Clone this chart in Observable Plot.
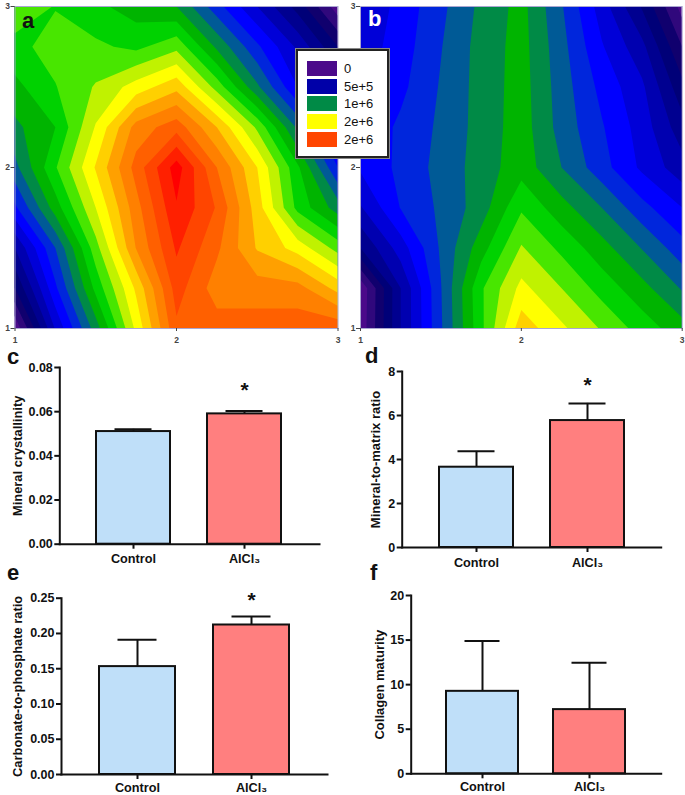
<!DOCTYPE html>
<html>
<head>
<meta charset="utf-8">
<script src="https://cdn.jsdelivr.net/npm/d3@7"></script>
<script src="https://cdn.jsdelivr.net/npm/@observablehq/plot@0.6"></script>
<style>
html,body{margin:0;padding:0;background:#fff}
#page{position:relative;width:685px;height:795px;overflow:hidden;font-family:"Liberation Sans",Arial,sans-serif}
.letter{position:absolute;font-weight:bold;font-size:22px;line-height:22px;color:#111}
#legend{position:absolute;left:296px;top:49px;width:89px;height:105px;background:#fff;border:2px solid #222;outline:1px solid #888;box-shadow:0 0 0 1px #777}
.sw{position:absolute;left:9px;width:30px;height:15px}
.lb{position:absolute;left:46px;font-size:13px;line-height:15px;color:#111}
</style>
</head>
<body>
<div id="page"></div>
<script>
// Contour grids, in units of 1e5, rows from y=3 down to y=1, columns x=1..3
const mapUnit = 1e5;
const mapA = [
  [13.6,12.95,12.25,11.5,11.0,8.4,6.0,3.6,0.4],
  [12.7,13.4,13.2,12.75,13.7,10.8,8.2,5.8,3],
  [11.7,12.95,14.1,15.45,16.7,13.6,10.2,7,4.5],
  [10.75,12,15.1,18.4,19.6,17,13.8,9.8,6],
  [9.7,12.9,16.1,19.4,22.5,19,16,12.2,8],
  [7.8,11.5,15,18.6,21.9,19.9,16.5,12.7,10.5],
  [5,9,13.6,18.05,21.15,19.2,16.9,15.6,13.6],
  [3,7.8,12.3,16.2,20.45,18.5,18.5,18.4,16.65],
  [0.2,6.1,10.5,15.25,19.8,19.5,19.5,19.6,19.7]
];
const mapB = [
  [6.05,7.35,8.75,10.25,11.35,9.1,6.5,3.9,0.6],
  [6.4,7.5,8.95,10.4,11.4,9.35,7.1,5.3,2],
  [6.85,7.75,9.1,10.4,11.45,9.5,7.7,6.2,3.3],
  [7.2,8.2,9.2,10.4,11.5,9.6,8.1,6.55,4.4],
  [7.15,8.25,9.35,10.45,11.6,10,8.4,6.8,5.4],
  [5.9,8.05,9.2,10.5,12.85,11.4,10,8.35,7],
  [4,6.5,9.15,11.55,14.1,12.75,11.4,9.95,8.4],
  [0.2,5,8.95,12.85,15.3,14,12.6,11.35,9.9],
  [0.3,5,8.87,12.75,16.6,15.2,13.9,12.55,11.4]
];
const levels = [0,1,2,3,4,5,6,7,8,9,10,11,12,13,14,15,16,17,18,19,20,21,22];
const bandColors = ["#4b0a8a","#30087c","#10006e","#000078","#000090","#0000b0","#0000d8","#0000ff","#0026dc","#005a96",
  "#008a46","#00b400","#00d200","#48e600","#c0f200","#ffff00","#ffd000","#ffa000","#ff8000","#ff6000","#ff4500","#ff2000","#ff0000"];
const legendLabels = ["0","5e+5","1e+6","2e+6","2e+6"];
const legendColors = ["#4b0a8a","#0000a8","#008a46","#ffff00","#ff4500"];

const categories = ["Control","AlCl₃"];
const barColors = ["#bfdff9","#ff7f7f"];
const crystallinity = [0.051,0.059], crystallinityTop = [0.052,0.0603];
const mineralMatrix = [3.65,5.77], mineralMatrixTop = [4.37,6.55];
const carbonate = [0.153,0.212], carbonateTop = [0.191,0.224];
const collagen = [9.25,7.2], collagenTop = [14.9,12.45];
const ticksC = [0,0.02,0.04,0.06,0.08], ticksD = [0,2,4,6,8], ticksE = [0,0.05,0.1,0.15,0.2,0.25], ticksF = [0,5,10,15,20];

const page = document.getElementById("page");
const font = '"Liberation Sans",Arial,sans-serif';

function place(svg,left,top){
  svg.style.position="absolute";svg.style.left=left+"px";svg.style.top=top+"px";svg.style.background="transparent";svg.style.overflow="visible";
  page.appendChild(svg);
}
function mapPanel(grid,left,width,mL,mR){
  const values = grid.flat().map(v=>v*mapUnit);
  const pad = 0.125;
  place(Plot.plot({
    width,height:345,marginLeft:mL,marginRight:mR,marginTop:6,marginBottom:17,
    x:{domain:[1,3]},y:{domain:[1,3]},
    color:{type:"ordinal",domain:levels.map(l=>l*mapUnit),range:bandColors},
    style:{fontFamily:font,background:"transparent"},
    marks:[
      Plot.contour(values,{width:9,height:9,x1:1-pad,x2:3+pad,y1:3+pad,y2:1-pad,
        fill:Plot.identity,thresholds:levels.map(l=>l*mapUnit),clip:true}),
      Plot.frame({stroke:"#aaa6d2",strokeWidth:1}),
      Plot.axisX({ticks:[1,2,3],tickFormat:"d",tickSize:3,tickPadding:5,fontSize:8.5,fontWeight:"bold",label:null,color:"#444"}),
      Plot.axisY({ticks:[1,2,3],tickFormat:"d",tickSize:4,tickPadding:1,fontSize:8.5,fontWeight:"bold",label:null,color:"#444"})
    ]
  }),left,0);
}
function barPanel(o){
  const rows = categories.map((c,i)=>({c,v:o.values[i],top:o.tops[i],fill:barColors[i]}));
  const starred = rows.filter((r,i)=>o.star && i===1);
  place(Plot.plot({
    width:o.width,height:o.height,marginLeft:o.mL,marginRight:o.mR,marginTop:o.mT,marginBottom:o.mB,
    x:{domain:categories,padding:o.pad},
    y:{domain:[0,o.max]},
    style:{fontFamily:font,background:"transparent",color:"#111"},
    marks:[
      Plot.ruleX(rows,{x:"c",y1:"v",y2:"top",stroke:"#111",strokeWidth:2}),
      Plot.tickY(rows,{x:"c",y:"top",stroke:"#111",strokeWidth:2,insetLeft:o.capInset,insetRight:o.capInset}),
      Plot.barY(rows,{x:"c",y:"v",fill:"fill",stroke:"#111",strokeWidth:2}),
      Plot.frame({anchor:"left",stroke:"#111",strokeWidth:2}),
      Plot.frame({anchor:"bottom",stroke:"#111",strokeWidth:2}),
      Plot.axisX({tickSize:5,tickPadding:o.xPad,fontSize:12.7,fontWeight:"bold",label:null,strokeWidth:2,stroke:"#111"}),
      Plot.axisY({ticks:o.ticks,tickFormat:o.fmt,tickSize:5,tickPadding:2,fontSize:o.tickFont||12.5,fontWeight:"bold",strokeWidth:2,stroke:"#111",
        label:null}),
      Plot.axisY({ticks:[],tickSize:0,label:o.title,labelAnchor:"center",labelArrow:"none",labelOffset:o.labelOffset,fontSize:o.titleFont,fontWeight:"bold"}),
      Plot.text(starred,{x:"c",y:"top",text:()=>"*",dy:o.starDy,fontSize:21,fontWeight:"bold",fill:"#111"})
    ]
  }),o.left,o.top);
}
mapPanel(mapA,0,345,14.5,7.5);
mapPanel(mapB,345,340,15,3.3);

barPanel({left:0,top:345,width:340,height:225,mL:59.3,mR:21,mT:22,mB:26.3,pad:0.33,capInset:18.5,max:0.08,xPad:5,
  values:crystallinity,tops:crystallinityTop,ticks:ticksC,fmt:".2f",title:"Mineral crystallinity",titleFont:12.9,labelOffset:47,star:true,starDy:-21});
barPanel({left:340,top:345,width:345,height:225,mL:61.7,mR:24.3,mT:26,mB:23,pad:0.33,capInset:18.5,max:8,xPad:5,
  values:mineralMatrix,tops:mineralMatrixTop,ticks:ticksD,fmt:"d",title:"Mineral-to-matrix ratio",titleFont:13,labelOffset:31,star:true,starDy:-18});
barPanel({left:0,top:570,width:340,height:225,mL:61,mR:13,mT:27.7,mB:21,pad:0.33,capInset:18.5,max:0.25,xPad:3.5,
  values:carbonate,tops:carbonateTop,ticks:ticksE,fmt:".2f",title:"Carbonate-to-phosphate ratio",titleFont:12.9,labelOffset:49,star:true,starDy:-16});
barPanel({left:340,top:570,width:345,height:225,mL:70.7,mR:24.3,mT:25,mB:21.7,pad:0.33,capInset:18.5,max:20,xPad:3.5,
  values:collagen,tops:collagenTop,ticks:ticksF,fmt:"d",title:"Collagen maturity",titleFont:13,labelOffset:36,star:false,starDy:0});

const letters = [["a",22,10,"#111"],["b",368,8,"#fff"],["c",7,346,"#111"],["d",365,345,"#111"],["e",7,562,"#111"],["f",370,562,"#111"]];
for(const [t,x,y,c] of letters){
  const d=document.createElement("div");d.className="letter";d.textContent=t;d.style.left=x+"px";d.style.top=y+"px";d.style.color=c;page.appendChild(d);
}
const lg=document.createElement("div");lg.id="legend";
legendLabels.forEach((t,i)=>{
  const s=document.createElement("div");s.className="sw";s.style.top=(10+i*17.7)+"px";s.style.background=legendColors[i];lg.appendChild(s);
  const l=document.createElement("div");l.className="lb";l.style.top=(10+i*17.7)+"px";l.textContent=t;lg.appendChild(l);
});
page.appendChild(lg);
</script>
</body>
</html>
